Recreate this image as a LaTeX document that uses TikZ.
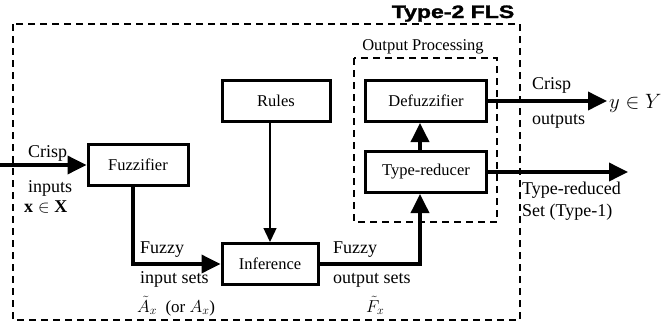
\documentclass[tikz,border=0pt]{standalone}
\usepackage{fontspec}
\setmainfont{Liberation Serif}
\setsansfont{Liberation Sans}
\newfontfamily\titlefont[FakeBold=1.5]{Liberation Sans Bold}
\usetikzlibrary{arrows.meta}
\begin{document}
\begin{tikzpicture}[x=1pt,y=-1pt,
  font=\fontsize{16.5}{18}\selectfont,
  blk/.style={draw,line width=3pt,minimum height=41pt,inner sep=0pt},
  conn/.style={line width=3.6pt,-{Triangle[length=19pt,width=18pt]}},
  thinconn/.style={line width=1.4pt,-{Triangle[length=14pt,width=13pt]}},
  dbox/.style={draw,dashed,line width=1.4pt,dash pattern=on 7pt off 5pt},
  lbl/.style={inner sep=0pt,anchor=base west,font=\fontsize{18}{20}\selectfont}]
\useasboundingbox (0,0) rectangle (671,324);
% dashed frames
\draw[dbox] (13,24) rectangle (520,320);
\draw[dbox] (354,58) rectangle (497,222);
\node[font=\titlefont\fontsize{18}{20}\selectfont,anchor=base,xscale=1.28,inner sep=0pt] (title) at (453,18) {Type-2 FLS};
\node[inner sep=0pt,anchor=base] (optitle) at (423,50) {Output Processing};
% blocks
\node[blk,minimum width=100pt] (fuz) at (138,165) {Fuzzifier};
\node[blk,minimum width=108pt] (rules) at (276,101) {Rules};
\node[blk,minimum width=96pt] (inf) at (270,264) {Inference};
\node[blk,minimum width=121pt] (defuz) at (426,101) {Defuzzifier};
\node[blk,minimum width=121pt] (tr) at (426,172) {Type-reducer};
% coordinates
\coordinate (in) at (0,165);
\coordinate (fc) at (133,264);
\coordinate (oc) at (420,264);
\coordinate (yout) at (607,101);
\coordinate (trout) at (628,172);
% connectors
\draw[conn] (in) -- (fuz.west);
\draw[conn] (fuz.south -| fc) -- (fc) -- (inf.west);
\draw[thinconn] (rules.south -| inf.north) -- (inf.north);
\draw[conn] (inf.east) -- (oc) -- (tr.south -| oc);
\draw[conn] (tr.north -| oc) -- (defuz.south -| oc);
\draw[conn] (defuz.east) -- (yout);
\draw[conn] (tr.east) -- (trout);
% labels
\node[lbl] (l1) at (28,157) {Crisp};
\node[lbl] (l2) at (28,192) {inputs};
\node[lbl] (l3) at (24,212) {$\mathbf{x}\in\mathbf{X}$};
\node[lbl] (l4) at (140,253) {Fuzzy};
\node[lbl] (l5) at (140,283) {input sets};
\node[lbl,font=\fontsize{17}{19}\selectfont] (l6) at (137,312) {$\tilde{A}_x$~ (or $A_x$)};
\node[lbl] (l7) at (333,253) {Fuzzy};
\node[lbl] (l8) at (333,283) {output sets};
\node[lbl,font=\fontsize{17}{19}\selectfont] (l9) at (366,312) {$\tilde{F}_x$};
\node[lbl] (l10) at (532,89) {Crisp};
\node[lbl] (l11) at (532,124) {outputs};
\node[lbl,font=\fontsize{20}{22}\selectfont] (l12) at (609,108) {$y\in Y$};
\node[lbl] (l13) at (522,194) {Type-reduced};
\node[lbl] (l14) at (522,216) {Set (Type-1)};
\end{tikzpicture}
\end{document}
